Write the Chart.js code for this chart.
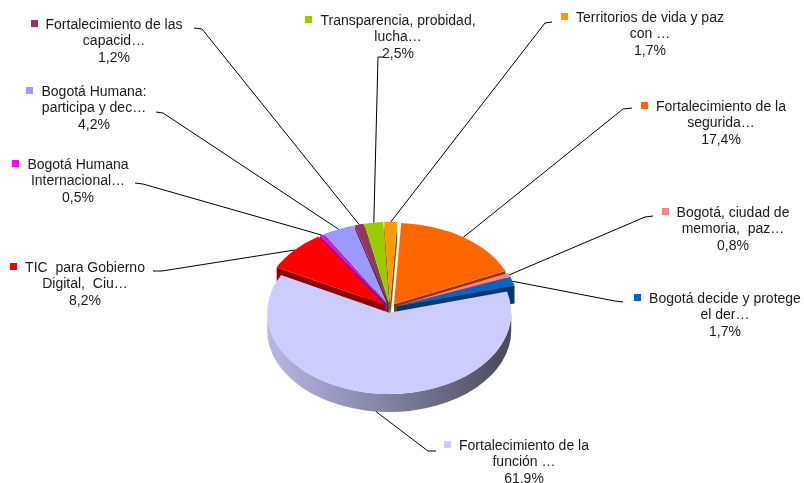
<!DOCTYPE html>
<html>
<head>
    <meta charset="utf-8">
    <title>Distribución por proyecto</title>
    <style>
        html, body {
            margin: 0;
            padding: 0;
            background: #ffffff;
        }
        #chart-container {
            width: 804px;
            height: 483px;
            position: relative;
        }
    </style>
    <script src="https://cdn.jsdelivr.net/npm/chart.js"></script>
</head>
<body>
    <div id="chart-container">
        <canvas id="pieChart"></canvas>
    </div>
    <script>
        // data, clockwise from the top of the pie
        const categories = [
            'Fortalecimiento de la seguridad…',
            'Bogotá, ciudad de memoria, paz…',
            'Bogotá decide y protege el der…',
            'Fortalecimiento de la función …',
            'TIC para Gobierno Digital, Ciu…',
            'Bogotá Humana Internacional…',
            'Bogotá Humana: participa y dec…',
            'Fortalecimiento de las capacid…',
            'Transparencia, probidad, lucha…',
            'Territorios de vida y paz con …'
        ];
        const shares = [17.4, 0.8, 1.7, 61.9, 8.2, 0.5, 4.2, 1.2, 2.5, 1.7];
        const shareLabels = ['17,4%', '0,8%', '1,7%', '61.9%', '8,2%', '0,5%', '4,2%', '1,2%', '2,5%', '1,7%'];
        const labelLines = [
            ['Fortalecimiento de la', 'segurida…'],
            ['Bogotá, ciudad de', 'memoria,  paz…'],
            ['Bogotá decide y protege', 'el der…'],
            ['Fortalecimiento de la', 'función …'],
            ['TIC  para Gobierno', 'Digital,  Ciu…'],
            ['Bogotá Humana', 'Internacional…'],
            ['Bogotá Humana:', 'participa y dec…'],
            ['Fortalecimiento de las', 'capacid…'],
            ['Transparencia, probidad,', 'lucha…'],
            ['Territorios de vida y paz', 'con …']
        ];
        const sliceColors = ['#FF6600', '#FF8080', '#0066CC', '#CCCCFF', '#FF0000',
                             '#FF00FF', '#9999FF', '#993366', '#99CC00', '#FF9900'];

        // where each callout sits: text centre, first line, leader hook
        const calloutLayout = [
            { x: 721, y: 107, hook: [632, 108, 623, 109] },
            { x: 733, y: 213, hook: [653, 216, 645, 217] },
            { x: 725, y: 299, hook: [623, 302, 615, 301] },
            { x: 524, y: 446, hook: [436, 451, 428, 451] },
            { x: 85,  y: 268, hook: [153, 271, 162, 271] },
            { x: 78,  y: 165, hook: [135, 183, 143, 184] },
            { x: 94,  y: 92,  hook: [156, 112, 163, 113] },
            { x: 114, y: 25,  hook: [194, 28, 202, 29] },
            { x: 398, y: 21,  hook: [383, 57, 378, 57] },
            { x: 650, y: 18,  hook: [552, 22, 545, 23] }
        ];

        const TILT = 0.667;    // vertical squash of the pie
        const DEPTH = 18;      // thickness of the 3d pie
        const EXPLODE = 7;     // gap between slices

        function shade(hex, f) {
            const n = parseInt(hex.slice(1), 16);
            const r = Math.round(((n >> 16) & 255) * f);
            const g = Math.round(((n >> 8) & 255) * f);
            const b = Math.round((n & 255) * f);
            return `rgb(${r},${g},${b})`;
        }

        function sliceGeom(arc) {
            const p = arc.getProps(['x', 'y', 'startAngle', 'endAngle', 'outerRadius']);
            const mid = (p.startAngle + p.endAngle) / 2;
            return {
                ox: p.x, oy: p.y,
                cx: p.x + Math.cos(mid) * EXPLODE,
                cy: p.y + Math.sin(mid) * EXPLODE * TILT,
                r: p.outerRadius,
                a1: p.startAngle,
                a2: p.endAngle,
                mid: mid,
                dx: Math.cos(mid) * EXPLODE,
                dy: Math.sin(mid) * EXPLODE
            };
        }

        const pie3d = {
            id: 'pie3d',
            beforeDatasetsDraw(chart) {
                const ctx = chart.ctx;
                const arcs = chart.getDatasetMeta(0).data;
                const geoms = arcs.map((a, i) => ({ g: sliceGeom(a), i: i }));
                geoms.sort((a, b) => Math.sin(a.g.mid) - Math.sin(b.g.mid));

                // side walls first
                geoms.forEach(({ g, i }) => {
                    const col = sliceColors[i];
                    const ry = g.r * TILT;
                    ctx.save();
                    // cut faces
                    [[g.a1, Math.cos(g.a1) < 0], [g.a2, Math.cos(g.a2) > 0]].forEach(([a, show]) => {
                        if (!show) return;
                        const ex = g.cx + g.r * Math.cos(a);
                        const ey = g.cy + ry * Math.sin(a);
                        ctx.beginPath();
                        ctx.moveTo(g.cx, g.cy);
                        ctx.lineTo(ex, ey);
                        ctx.lineTo(ex, ey + DEPTH);
                        ctx.lineTo(g.cx, g.cy + DEPTH);
                        ctx.closePath();
                        ctx.fillStyle = shade(col, 0.55);
                        ctx.fill();
                    });
                    // outer wall on the front half
                    for (let k = -1; k <= 2; k++) {
                        const lo = Math.max(g.a1, k * 2 * Math.PI);
                        const hi = Math.min(g.a2, k * 2 * Math.PI + Math.PI);
                        if (hi <= lo) continue;
                        const grad = ctx.createLinearGradient(g.cx - g.r, 0, g.cx + g.r, 0);
                        grad.addColorStop(0, shade(col, 0.9));
                        grad.addColorStop(0.45, shade(col, 0.66));
                        grad.addColorStop(1, shade(col, 0.36));
                        ctx.beginPath();
                        ctx.ellipse(g.cx, g.cy, g.r, ry, 0, lo, hi, false);
                        ctx.ellipse(g.cx, g.cy + DEPTH, g.r, ry, 0, hi, lo, true);
                        ctx.closePath();
                        ctx.fillStyle = grad;
                        ctx.fill();
                    }
                    ctx.restore();
                });

                // top faces, drawn by the arc elements in a squashed context
                arcs.forEach((arc, i) => {
                    const g = sliceGeom(arc);
                    ctx.save();
                    ctx.translate(g.ox, g.oy);
                    ctx.scale(1, TILT);
                    ctx.translate(-g.ox, -g.oy);
                    ctx.translate(g.dx, g.dy);
                    arc.draw(ctx, chart.chartArea);
                    ctx.restore();
                });
                return false;
            },
            afterDraw(chart) {
                const ctx = chart.ctx;
                const arcs = chart.getDatasetMeta(0).data;
                ctx.save();
                ctx.font = '14px "Liberation Sans", Arial, sans-serif';
                ctx.textAlign = 'center';
                ctx.textBaseline = 'middle';
                arcs.forEach((arc, i) => {
                    const g = sliceGeom(arc);
                    const lay = calloutLayout[i];
                    // leader line
                    let px = g.cx + g.r * Math.cos(g.mid);
                    let py = g.cy + g.r * TILT * Math.sin(g.mid);
                    if (Math.sin(g.mid) > 0.3) py += DEPTH;
                    ctx.strokeStyle = '#000000';
                    ctx.lineWidth = 1;
                    ctx.beginPath();
                    ctx.moveTo(lay.hook[0], lay.hook[1]);
                    ctx.lineTo(lay.hook[2], lay.hook[3]);
                    ctx.lineTo(px, py);
                    ctx.stroke();

                    // text
                    const lines = labelLines[i].concat([shareLabels[i]]);
                    ctx.fillStyle = '#1a1a1a';
                    lines.forEach((t, j) => {
                        ctx.fillText(t, lay.x, lay.y + j * 16.5);
                    });
                    const w = ctx.measureText(lines[0]).width;
                    ctx.fillStyle = sliceColors[i];
                    ctx.fillRect(Math.round(lay.x - w / 2 - 15), Math.round(lay.y - 5), 7, 7);
                });
                ctx.restore();
            }
        };

        new Chart(document.getElementById('pieChart').getContext('2d'), {
            type: 'pie',
            data: {
                labels: categories,
                datasets: [{
                    data: shares,
                    backgroundColor: sliceColors,
                    borderWidth: 0,
                    hoverOffset: 0
                }]
            },
            options: {
                responsive: true,
                maintainAspectRatio: false,
                animation: false,
                events: [],
                rotation: 3.4,
                radius: 122,
                layout: {
                    padding: { left: 260, right: 284, top: 178, bottom: 45 }
                },
                plugins: {
                    legend: { display: false },
                    tooltip: { enabled: false }
                }
            },
            plugins: [pie3d]
        });
    </script>
</body>
</html>
